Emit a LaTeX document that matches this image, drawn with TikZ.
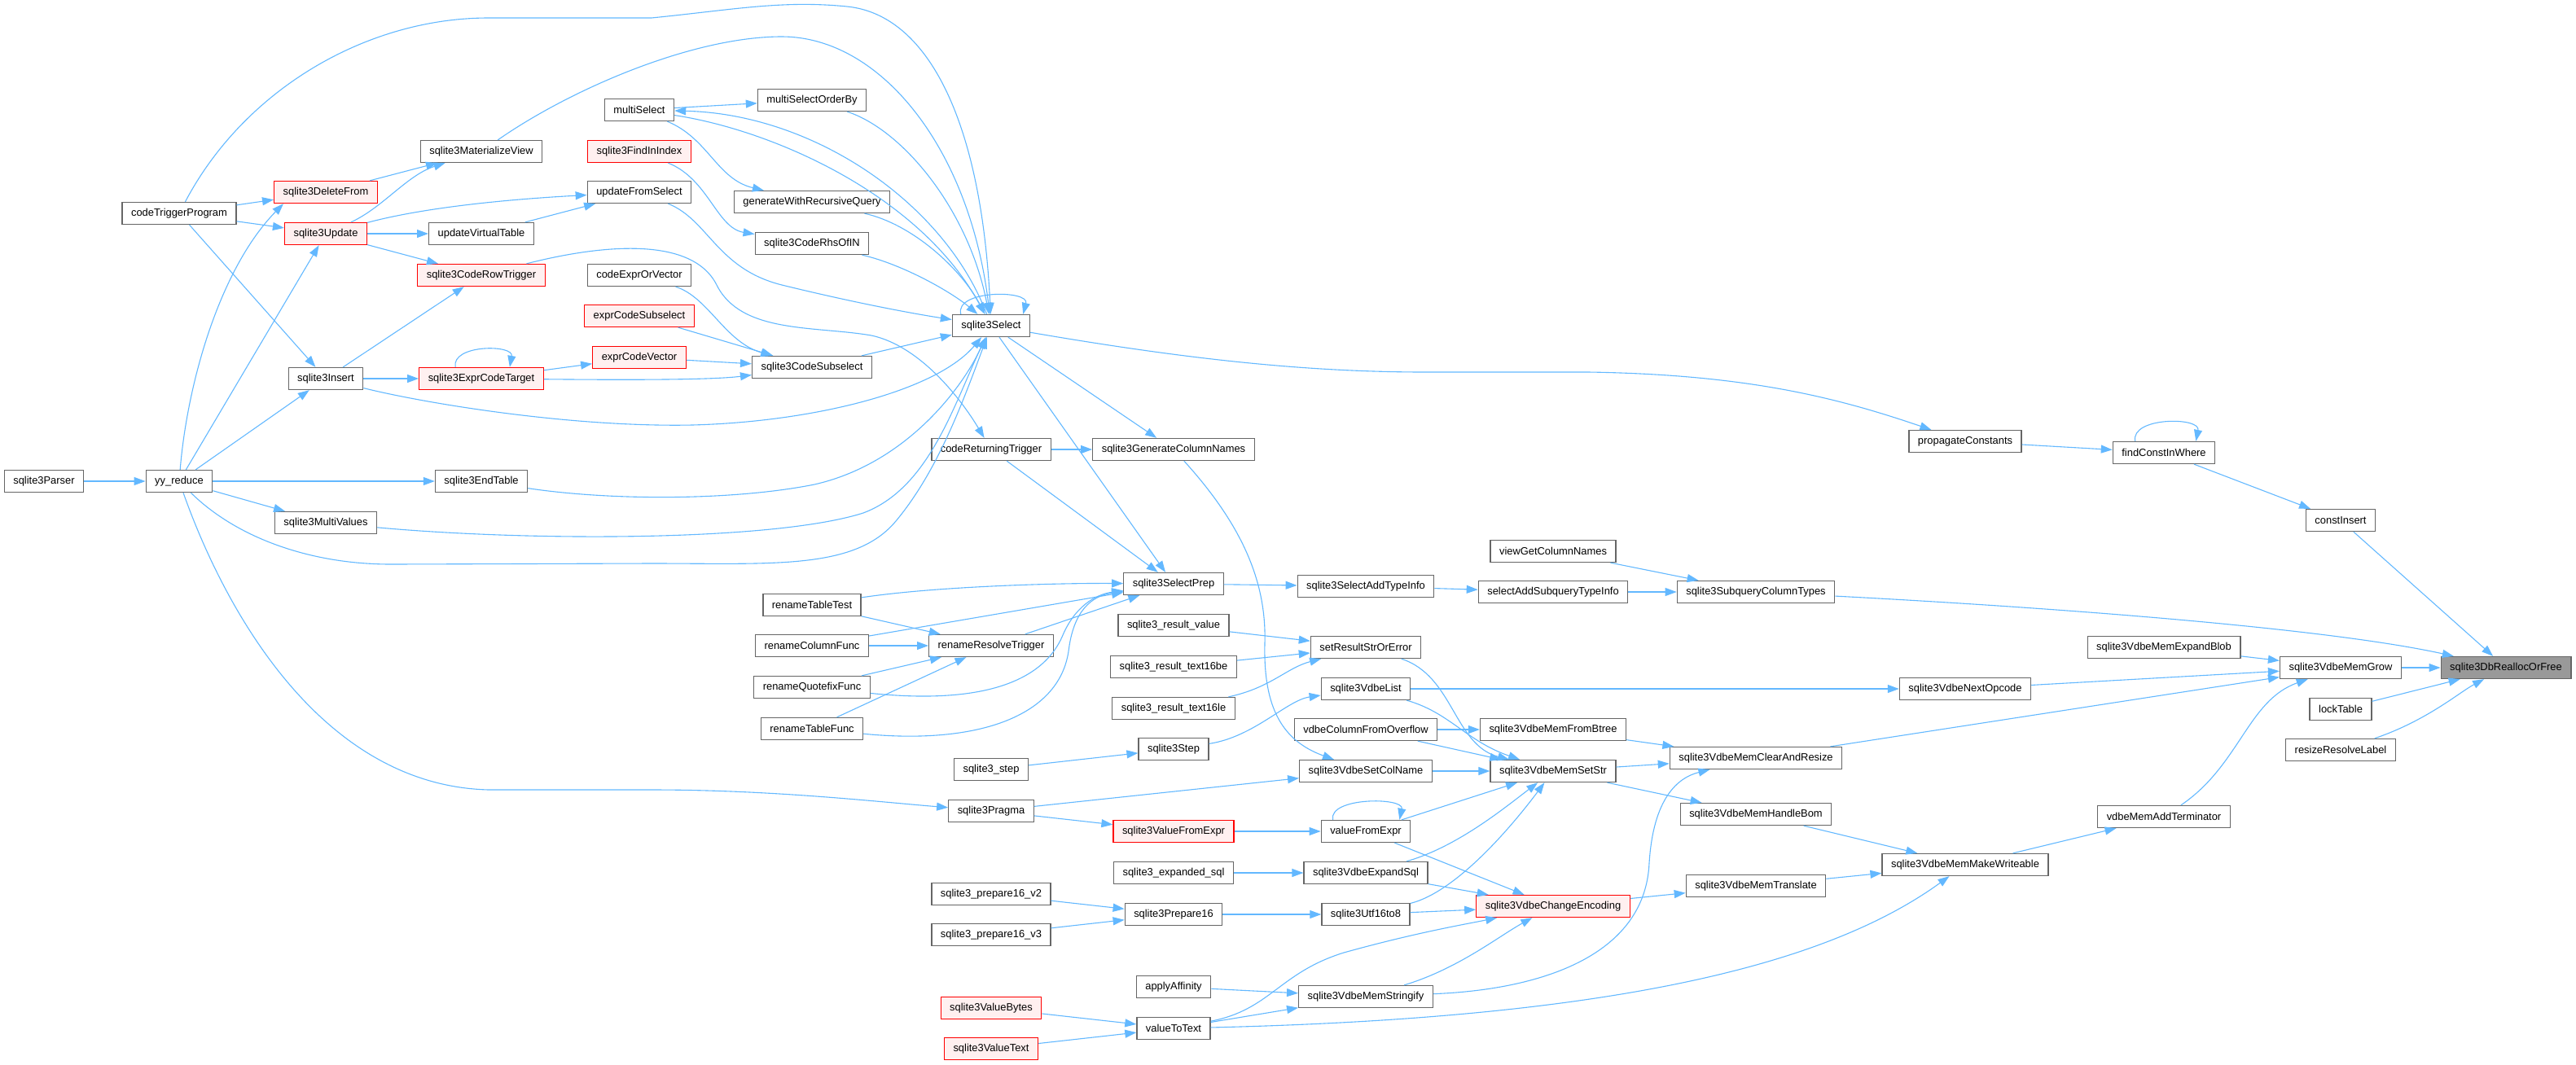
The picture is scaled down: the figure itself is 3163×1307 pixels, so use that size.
\documentclass[tikz,border=0pt]{standalone}
\usepackage{fontspec}
\setmainfont{Liberation Sans}
\usepackage{tikz}
\usetikzlibrary{arrows.meta}
\definecolor{edgeblue}{HTML}{63B8FF}
\definecolor{boxgray}{HTML}{666666}
\definecolor{rootgray}{HTML}{999999}
\definecolor{redfill}{HTML}{FFF0F0}
\newcommand{\graphfont}{\fontsize{12.9}{14}\selectfont}

\begin{document}
\begin{tikzpicture}[x=1pt, y=-1pt,
    >={Triangle[length=14pt, width=10pt]},
    fn/.style={draw=boxgray, fill=white, line width=1.3pt, minimum height=27pt,
               inner xsep=11pt, inner ysep=0pt, font=\graphfont},
    fnred/.style={fn, draw=red, fill=redfill},
    fnroot/.style={fn, fill=rootgray},
    edge/.style={->, draw=edgeblue, line width=1.1pt}]
    \useasboundingbox (0,0) rectangle (3163,1307);

    % Callers on the left
    \node[fn] (parser) at (54,591) {sqlite3Parser};
    \node[fn] (yyReduce) at (220,591) {yy\_reduce};
    \node[fn] (codeTrig) at (220,262) {codeTriggerProgram};
    \node[fnred] (deleteFrom) at (400,236) {sqlite3DeleteFrom};
    \node[fnred] (update) at (400,287) {sqlite3Update};
    \node[fn] (insert) at (400,465) {sqlite3Insert};
    \node[fn] (multiValues) at (400,642) {sqlite3MultiValues};
    \node[fn] (matView) at (591,186) {sqlite3MaterializeView};
    \node[fn] (updVirt) at (591,287) {updateVirtualTable};
    \node[fnred] (rowTrig) at (591,338) {sqlite3CodeRowTrigger};
    \node[fnred] (exprTarget) at (591,465) {sqlite3ExprCodeTarget};
    \node[fn] (endTable) at (591,591) {sqlite3EndTable};
    \node[fn] (multiSel) at (785,135) {multiSelect};
    \node[fnred] (findIdx) at (785,186) {sqlite3FindInIndex};
    \node[fn] (updFromSel) at (785,236) {updateFromSelect};
    \node[fn] (exprOrVec) at (785,338) {codeExprOrVector};
    \node[fnred] (exprSubsel) at (785,388) {exprCodeSubselect};
    \node[fnred] (exprVec) at (785,439) {exprCodeVector};
    \node[fn] (orderBy) at (997,123) {multiSelectOrderBy};
    \node[fn] (withRec) at (997,248) {generateWithRecursiveQuery};
    \node[fn] (rhsOfIN) at (997,299) {sqlite3CodeRhsOfIN};
    \node[fn] (codeSubsel) at (997,451) {sqlite3CodeSubselect};
    \node[fn] (renTest) at (997,743) {renameTableTest};
    \node[fn] (renCol) at (997,793) {renameColumnFunc};
    \node[fn] (renQuote) at (997,844) {renameQuotefixFunc};
    \node[fn] (renTable) at (997,895) {renameTableFunc};

    % Middle columns
    \node[fn] (select) at (1217,400) {sqlite3Select};
    \node[fn] (retTrig) at (1217,552) {codeReturningTrigger};
    \node[fn] (renResolve) at (1217,793) {renameResolveTrigger};
    \node[fn] (stepApi) at (1217,945) {sqlite3\_step};
    \node[fn] (pragma) at (1217,996) {sqlite3Pragma};
    \node[fn] (prep16v2) at (1217,1098) {sqlite3\_prepare16\_v2};
    \node[fn] (prep16v3) at (1217,1148) {sqlite3\_prepare16\_v3};
    \node[fnred] (valBytes) at (1217,1238) {sqlite3ValueBytes};
    \node[fnred] (valText) at (1217,1288) {sqlite3ValueText};
    \node[fn] (genCols) at (1441,552) {sqlite3GenerateColumnNames};
    \node[fn] (selPrep) at (1441,717) {sqlite3SelectPrep};
    \node[fn] (resValue) at (1441,768) {sqlite3\_result\_value};
    \node[fn] (res16be) at (1441,819) {sqlite3\_result\_text16be};
    \node[fn] (res16le) at (1441,870) {sqlite3\_result\_text16le};
    \node[fn] (step) at (1441,920) {sqlite3Step};
    \node[fnred] (valFromExpr) at (1441,1021) {sqlite3ValueFromExpr};
    \node[fn] (expSql) at (1441,1072) {sqlite3\_expanded\_sql};
    \node[fn] (prep16) at (1441,1123) {sqlite3Prepare16};
    \node[fn] (affinity) at (1441,1212) {applyAffinity};
    \node[fn] (valToText) at (1441,1263) {valueToText};
    \node[fn] (addType) at (1677,720) {sqlite3SelectAddTypeInfo};
    \node[fn] (setResult) at (1677,795) {setResultStrOrError};
    \node[fn] (vdbeList) at (1677,846) {sqlite3VdbeList};
    \node[fn] (colOverflow) at (1677,896) {vdbeColumnFromOverflow};
    \node[fn] (setColName) at (1677,947) {sqlite3VdbeSetColName};
    \node[fn] (valFromExprS) at (1677,1021) {valueFromExpr};
    \node[fn] (expandSql) at (1677,1072) {sqlite3VdbeExpandSql};
    \node[fn] (utf16to8) at (1677,1123) {sqlite3Utf16to8};
    \node[fn] (stringify) at (1677,1224) {sqlite3VdbeMemStringify};
    \node[fn] (viewCols) at (1907,677) {viewGetColumnNames};
    \node[fn] (subAddType) at (1907,727) {selectAddSubqueryTypeInfo};
    \node[fn] (fromBtree) at (1907,896) {sqlite3VdbeMemFromBtree};
    \node[fn] (setStr) at (1907,947) {sqlite3VdbeMemSetStr};
    \node[fnred] (changeEnc) at (1907,1113) {sqlite3VdbeChangeEncoding};

    % Right columns
    \node[fn] (subColTypes) at (2156,727) {sqlite3SubqueryColumnTypes};
    \node[fn] (clearResize) at (2156,931) {sqlite3VdbeMemClearAndResize};
    \node[fn] (handleBom) at (2156,1000) {sqlite3VdbeMemHandleBom};
    \node[fn] (translate) at (2156,1088) {sqlite3VdbeMemTranslate};
    \node[fn] (propConst) at (2413,542) {propagateConstants};
    \node[fn] (nextOp) at (2413,846) {sqlite3VdbeNextOpcode};
    \node[fn] (makeWrite) at (2413,1062) {sqlite3VdbeMemMakeWriteable};
    \node[fn] (findConst) at (2657,556) {findConstInWhere};
    \node[fn] (expandBlob) at (2657,795) {sqlite3VdbeMemExpandBlob};
    \node[fn] (addTerm) at (2657,1003) {vdbeMemAddTerminator};
    \node[fn] (constIns) at (2874,639) {constInsert};
    \node[fn] (memGrow) at (2874,820) {sqlite3VdbeMemGrow};
    \node[fn] (lockTab) at (2874,871) {lockTable};
    \node[fn] (resizeLbl) at (2874,921) {resizeResolveLabel};
    \node[fnroot] (realloc) at (3077,820) {sqlite3DbReallocOrFree};

    % Parser side
    \draw[edge] (parser) -- (yyReduce);
    \draw[edge] (yyReduce) -- (endTable);
    \draw[edge] (yyReduce) -- (multiValues);
    \draw[edge] (yyReduce) -- (insert);
    \draw[edge] (yyReduce) -- (update);
    \draw[edge] (yyReduce) .. controls (230,470) and (270,330) .. ([xshift=12pt]deleteFrom.south west);
    \draw[edge] (yyReduce) .. controls (280,760) and (400,965) .. (600,970) -- (800,970) .. controls (950,970) and (1080,985) .. (pragma);
    \draw[edge] (yyReduce) .. controls (290,660) and (380,693) .. (480,693) -- (800,692) .. controls (950,692) and (1050,700) .. (1100,640) .. controls (1150,580) and (1180,500) .. (select);
    \draw[edge] (codeTrig) -- (deleteFrom);
    \draw[edge] (codeTrig) -- (update);
    \draw[edge] (codeTrig) -- (insert);
    \draw[edge] (codeTrig) .. controls (300,110) and (450,22) .. (600,22) -- (800,22) .. controls (900,12) and (960,0) .. (1040,8) .. controls (1140,18) and (1205,150) .. (select);

    % Delete, update and insert
    \draw[edge] (deleteFrom) -- (matView);
    \draw[edge] (update) .. controls (470,255) and (500,215) .. (matView);
    \draw[edge] (update) .. controls (520,255) and (620,245) .. (updFromSel);
    \draw[edge] (update) -- (updVirt);
    \draw[edge] (update) -- (rowTrig);
    \draw[edge] (updVirt) -- (updFromSel);
    \draw[edge] (insert) -- (exprTarget);
    \draw[edge] (insert) -- (rowTrig);
    \draw[edge] (insert) .. controls (520,495) and (700,525) .. (850,522) .. controls (1000,518) and (1150,480) .. (select);
    \draw[edge] (matView) .. controls (700,110) and (850,45) .. (960,45) .. controls (1080,45) and (1190,180) .. (select);
    \draw[edge] (rowTrig) .. controls (740,300) and (850,290) .. (880,350) .. controls (910,410) and (1000,400) .. (1070,412) .. controls (1130,425) and (1180,490) .. (retTrig);
    \draw[edge] ([xshift=45pt]exprTarget.north west) .. controls +(-5,-28) and +(5,-28) .. ([xshift=-42pt]exprTarget.north east);
    \draw[edge] (exprTarget) -- (exprVec);
    \draw[edge] (exprTarget) .. controls (800,467) and (880,466) .. (codeSubsel);
    \draw[edge] (endTable) .. controls (750,615) and (900,615) .. (1000,595) .. controls (1110,570) and (1180,480) .. (select);
    \draw[edge] (multiValues) .. controls (650,665) and (950,665) .. (1060,630) .. controls (1140,600) and (1170,500) .. (select);

    % Into sqlite3Select
    \draw[edge] (multiSel) -- (orderBy);
    \draw[edge] (multiSel) .. controls (870,170) and (880,220) .. (withRec);
    \draw[edge] (multiSel) .. controls (950,160) and (1130,240) .. (select);
    \draw[edge] (select) .. controls (1160,250) and (1000,140) .. (multiSel);
    \draw[edge] (orderBy) .. controls (1110,160) and (1190,260) .. (select);
    \draw[edge] (withRec) .. controls (1120,275) and (1180,330) .. (select);
    \draw[edge] (findIdx) .. controls (870,220) and (880,280) .. (rhsOfIN);
    \draw[edge] (rhsOfIN) .. controls (1110,325) and (1170,360) .. (select);
    \draw[edge] (updFromSel) .. controls (870,270) and (880,330) .. (960,350) .. controls (1050,372) and (1120,385) .. (select);
    \draw[edge] (exprOrVec) .. controls (870,365) and (890,420) .. (codeSubsel);
    \draw[edge] (exprSubsel) -- (codeSubsel);
    \draw[edge] (exprVec) -- (codeSubsel);
    \draw[edge] (codeSubsel) -- (select);
    \draw[edge] ([xshift=11pt]select.north west) .. controls +(-8,-30) and +(8,-30) .. ([xshift=-9pt]select.north east);

    % Out of sqlite3Select
    \draw[edge] (select) -- (genCols);
    \draw[edge] (select) -- (selPrep);
    \draw[edge] (select) .. controls (1450,440) and (1600,457) .. (1750,457) -- (1950,457) .. controls (2150,460) and (2260,490) .. (propConst);
    \draw[edge] (retTrig) -- (genCols);
    \draw[edge] (retTrig) -- (selPrep);
    \draw[edge] (genCols) .. controls (1530,650) and (1555,720) .. (1553,790) .. controls (1551,870) and (1575,910) .. (setColName);
    \draw[edge] (selPrep) -- (addType);
    \draw[edge] (addType) -- (subAddType);
    \draw[edge] (subAddType) -- (subColTypes);
    \draw[edge] (viewCols) -- (subColTypes);
    \draw[edge] (subColTypes) .. controls (2500,745) and (2850,770) .. (realloc);

    % Rename helpers
    \draw[edge] (renTest) .. controls (1150,720) and (1300,716) .. (selPrep);
    \draw[edge] (renTest) -- (renResolve);
    \draw[edge] (renCol) -- (selPrep);
    \draw[edge] (renCol) -- (renResolve);
    \draw[edge] (renResolve) -- (selPrep);
    \draw[edge] (renQuote) -- (renResolve);
    \draw[edge] (renQuote) .. controls (1200,865) and (1280,840) .. (1305,780) .. controls (1320,745) and (1345,730) .. (selPrep);
    \draw[edge] (renTable) -- (renResolve);
    \draw[edge] (renTable) .. controls (1200,915) and (1300,880) .. (1312,800) .. controls (1318,750) and (1340,732) .. (selPrep);

    % Vdbe memory path
    \draw[edge] (resValue) -- (setResult);
    \draw[edge] (res16be) -- (setResult);
    \draw[edge] (res16le) .. controls (1560,845) and (1580,820) .. (setResult);
    \draw[edge] (setResult) .. controls (1785,830) and (1785,915) .. (setStr);
    \draw[edge] (stepApi) -- (step);
    \draw[edge] (step) .. controls (1540,905) and (1580,860) .. (vdbeList);
    \draw[edge] (vdbeList) -- (nextOp);
    \draw[edge] (vdbeList) .. controls (1780,875) and (1800,910) .. (setStr);
    \draw[edge] (colOverflow) -- (fromBtree);
    \draw[edge] (colOverflow) -- (setStr);
    \draw[edge] (setColName) -- (setStr);
    \draw[edge] (pragma) -- (setColName);
    \draw[edge] (pragma) -- (valFromExpr);
    \draw[edge] (valFromExpr) -- (valFromExprS);
    \draw[edge] ([xshift=15pt]valFromExprS.north west) .. controls +(-6,-28) and +(6,-28) .. ([xshift=-14pt]valFromExprS.north east);
    \draw[edge] (valFromExprS) -- (setStr);
    \draw[edge] (valFromExprS) -- (changeEnc);
    \draw[edge] (expSql) -- (expandSql);
    \draw[edge] (expandSql) .. controls (1790,1040) and (1850,990) .. (setStr);
    \draw[edge] (expandSql) -- (changeEnc);
    \draw[edge] (prep16v2) -- (prep16);
    \draw[edge] (prep16v3) -- (prep16);
    \draw[edge] (prep16) -- (utf16to8);
    \draw[edge] (utf16to8) .. controls (1790,1095) and (1860,1010) .. (setStr);
    \draw[edge] (utf16to8) -- (changeEnc);
    \draw[edge] (affinity) -- (stringify);
    \draw[edge] (valBytes) -- (valToText);
    \draw[edge] (valText) -- (valToText);
    \draw[edge] (valToText) -- (stringify);
    \draw[edge] (valToText) .. controls (1560,1240) and (1570,1195) .. (1650,1170) .. controls (1740,1145) and (1800,1135) .. (changeEnc);
    \draw[edge] (valToText) .. controls (2000,1250) and (2250,1180) .. (makeWrite);
    \draw[edge] (stringify) .. controls (1790,1190) and (1840,1150) .. (changeEnc);
    \draw[edge] (stringify) .. controls (1900,1215) and (2020,1170) .. (2025,1060) .. controls (2030,980) and (2060,955) .. (clearResize);
    \draw[edge] (fromBtree) -- (clearResize);
    \draw[edge] (setStr) -- (clearResize);
    \draw[edge] (setStr) -- (handleBom);
    \draw[edge] (changeEnc) -- (translate);
    \draw[edge] (handleBom) -- (makeWrite);
    \draw[edge] (translate) -- (makeWrite);
    \draw[edge] (makeWrite) -- (addTerm);
    \draw[edge] (addTerm) .. controls (2750,940) and (2760,860) .. (memGrow);
    \draw[edge] (clearResize) -- (memGrow);
    \draw[edge] (nextOp) -- (memGrow);
    \draw[edge] (expandBlob) -- (memGrow);

    % Into sqlite3DbReallocOrFree
    \draw[edge] (propConst) -- (findConst);
    \draw[edge] ([xshift=28pt]findConst.north west) .. controls +(-6,-30) and +(6,-30) .. ([xshift=-24pt]findConst.north east);
    \draw[edge] (findConst) -- (constIns);
    \draw[edge] (constIns) -- (realloc);
    \draw[edge] (memGrow) -- (realloc);
    \draw[edge] (lockTab) -- (realloc);
    \draw[edge] (resizeLbl) .. controls (2980,885) and (3020,850) .. (realloc);
\end{tikzpicture}
\end{document}
